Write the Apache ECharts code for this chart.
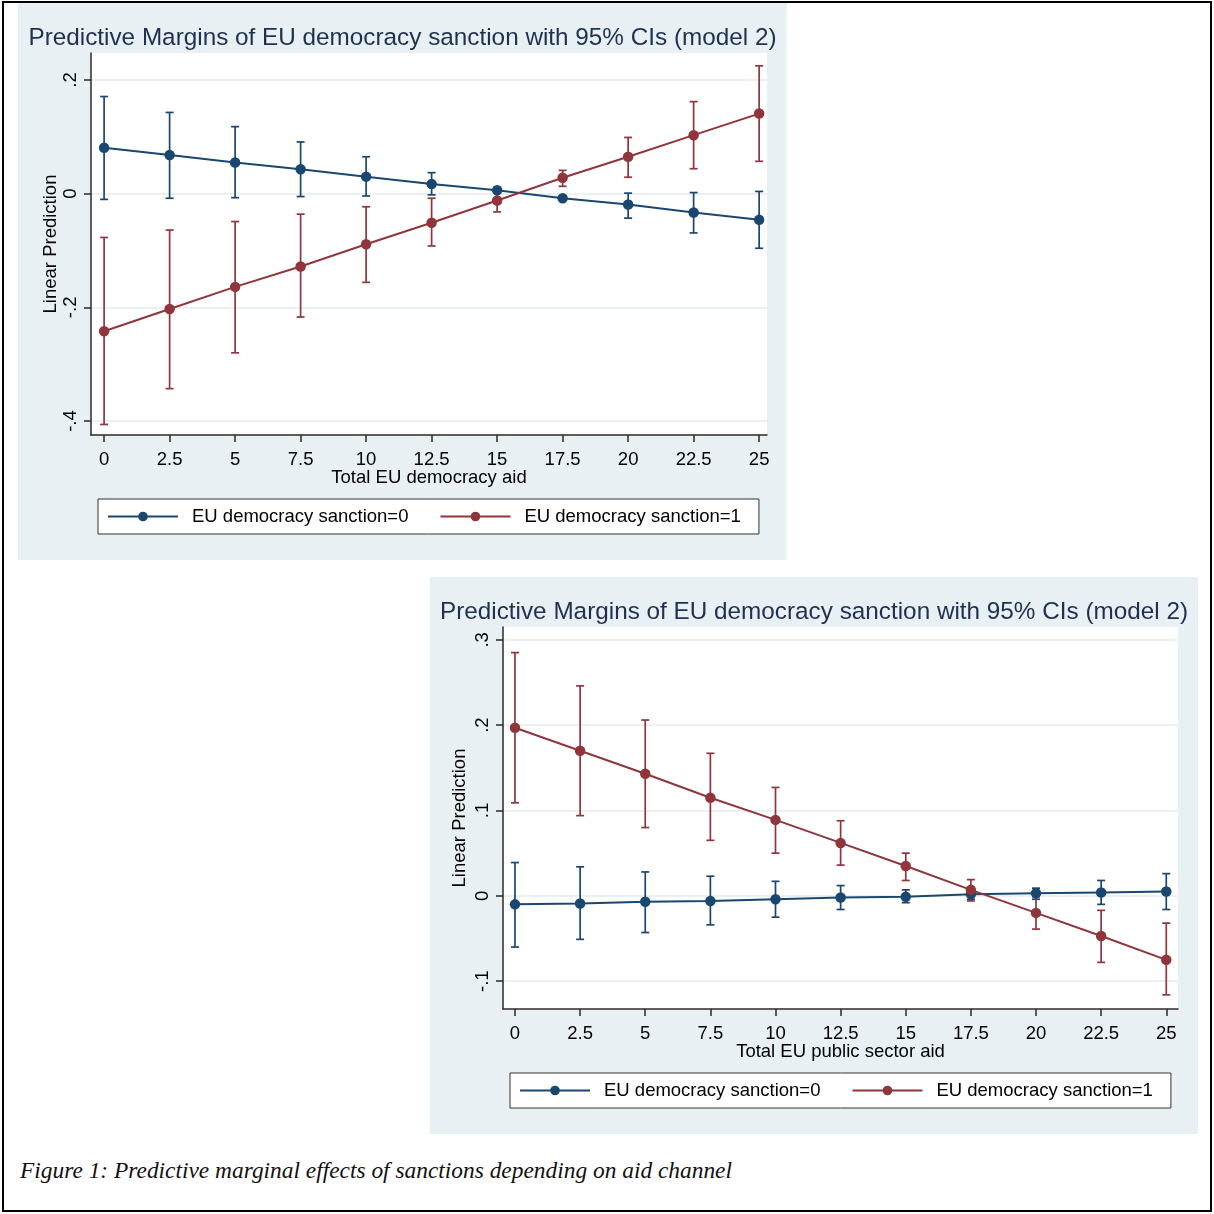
<!DOCTYPE html>
<html>
<head>
<meta charset="utf-8">
<script src="https://cdn.jsdelivr.net/npm/echarts@6/dist/echarts.min.js"></script>
<style>
  html, body { margin:0; padding:0; background:#fff; width:1214px; height:1214px; overflow:hidden; }
  #frame { position:absolute; left:2px; top:1px; width:1210px; height:1211px; border:2px solid #000; box-sizing:border-box; }
  .panel { position:absolute; background:#e8f0f3; }
  #p1 { left:18px; top:3px; width:769px; height:557px; }
  #p2 { left:430px; top:577px; width:768px; height:557px; }
  #caption { position:absolute; left:20px; top:1157px; font-family:"Liberation Serif", "Times New Roman", serif; font-style:italic; font-size:23.4px; color:#111; white-space:nowrap; }
</style>
</head>
<body>
<div id="frame"></div>
<div id="p1" class="panel"></div>
<div id="p2" class="panel"></div>
<div id="caption">Figure 1: Predictive marginal effects of sanctions depending on aid channel</div>
<script>
// ---------- data ----------
const xValues = [0, 2.5, 5, 7.5, 10, 12.5, 15, 17.5, 20, 22.5, 25];
const xTickLabels = ['0', '2.5', '5', '7.5', '10', '12.5', '15', '17.5', '20', '22.5', '25'];

// Panel 1: Total EU democracy aid
const p1Est0 = [0.081, 0.068, 0.055, 0.043, 0.030, 0.017, 0.006, -0.008, -0.019, -0.033, -0.046];
const p1Lo0  = [-0.010, -0.008, -0.007, -0.005, -0.004, -0.002, 0.001, -0.011, -0.043, -0.069, -0.096];
const p1Hi0  = [0.171, 0.143, 0.118, 0.091, 0.065, 0.037, 0.011, -0.005, 0.001, 0.002, 0.004];
const p1Est1 = [-0.242, -0.203, -0.164, -0.128, -0.089, -0.051, -0.012, 0.028, 0.065, 0.103, 0.141];
const p1Lo1  = [-0.406, -0.343, -0.280, -0.217, -0.156, -0.092, -0.032, 0.013, 0.029, 0.044, 0.057];
const p1Hi1  = [-0.077, -0.064, -0.049, -0.036, -0.023, -0.008, 0.007, 0.041, 0.099, 0.162, 0.225];
const p1YTicks = [-0.4, -0.2, 0, 0.2];
const p1YTickLabels = ['-.4', '-.2', '0', '.2'];

// Panel 2: Total EU public sector aid
const p2Est0 = [-0.010, -0.009, -0.007, -0.006, -0.004, -0.002, -0.001, 0.002, 0.003, 0.004, 0.005];
const p2Lo0  = [-0.060, -0.051, -0.043, -0.034, -0.025, -0.016, -0.008, -0.004, -0.004, -0.010, -0.016];
const p2Hi0  = [0.039, 0.034, 0.028, 0.023, 0.017, 0.012, 0.007, 0.005, 0.009, 0.018, 0.026];
const p2Est1 = [0.197, 0.170, 0.143, 0.115, 0.089, 0.062, 0.035, 0.007, -0.020, -0.047, -0.075];
const p2Lo1  = [0.109, 0.094, 0.080, 0.065, 0.050, 0.036, 0.018, -0.006, -0.039, -0.078, -0.116];
const p2Hi1  = [0.285, 0.246, 0.206, 0.167, 0.127, 0.088, 0.050, 0.019, -0.001, -0.017, -0.032];
const p2YTicks = [-0.1, 0, 0.1, 0.2, 0.3];
const p2YTickLabels = ['-.1', '0', '.1', '.2', '.3'];

const titleText = 'Predictive Margins of EU democracy sanction with 95% CIs (model 2)';
const seriesNames = ['EU democracy sanction=0', 'EU democracy sanction=1'];
const yName = 'Linear Prediction';
const xName1 = 'Total EU democracy aid';
const xName2 = 'Total EU public sector aid';

// ---------- styling ----------
const NAVY = '#1a476f';
const MAROON = '#90353b';
const FONT = '"Liberation Sans", Arial, sans-serif';
const AXIS = '#2a2a2a';
const FS = 18.5;

function errRender(params, api) {
  const x = api.value(0), lo = api.value(1), hi = api.value(2);
  const a = api.coord([x, lo]), b = api.coord([x, hi]);
  const w = 4;
  const style = { stroke: api.visual('color'), lineWidth: 1.7, fill: null };
  return {
    type: 'group',
    children: [
      { type: 'line', shape: { x1: a[0], y1: a[1], x2: b[0], y2: b[1] }, style: style },
      { type: 'line', shape: { x1: a[0] - w, y1: a[1], x2: a[0] + w, y2: a[1] }, style: style },
      { type: 'line', shape: { x1: b[0] - w, y1: b[1], x2: b[0] + w, y2: b[1] }, style: style }
    ]
  };
}

function zip2(a, b) { return a.map((v, i) => [v, b[i]]); }
function zip3(a, b, c) { return a.map((v, i) => [v, b[i], c[i]]); }

function buildOption(cfg) {
  const yLabelMap = {};
  cfg.yTicks.forEach((t, i) => { yLabelMap[t.toFixed(3)] = cfg.yTickLabels[i]; });
  const xLabelMap = {};
  xValues.forEach((t, i) => { xLabelMap[t.toFixed(3)] = xTickLabels[i]; });
  return {
    animation: false,
    textStyle: { fontFamily: FONT },
    title: {
      text: titleText, left: 'center', top: 18,
      textStyle: { fontFamily: FONT, fontSize: 24.3, fontWeight: 'normal', color: '#1f3050' }
    },
    legend: {
      data: seriesNames,
      left: 80, top: 496,
      orient: 'horizontal',
      backgroundColor: '#fff', borderColor: '#333', borderWidth: 1, borderRadius: 0,
      padding: [8, 18, 8, 9],
      itemWidth: 70, itemHeight: 12, itemGap: 31,
      textStyle: { fontFamily: FONT, fontSize: FS, color: '#000', padding: [0, 0, 0, 9] }
    },
    grid: {
      left: 73, top: 50, width: cfg.gridWidth, height: 382,
      show: true, backgroundColor: '#fff', borderWidth: 0, containLabel: false
    },
    xAxis: {
      type: 'value', min: cfg.xMin, max: cfg.xMax,
      name: cfg.xName, nameLocation: 'middle', nameGap: 33, nameMoveOverlap: false,
      nameTextStyle: { fontFamily: FONT, fontSize: FS, color: '#000' },
      axisLine: { show: true, onZero: false, lineStyle: { color: AXIS, width: 1.5 } },
      axisTick: { show: true, length: 7, lineStyle: { color: AXIS, width: 1.5 }, customValues: xValues },
      axisLabel: {
        customValues: xValues, margin: 15, color: '#000', fontFamily: FONT, fontSize: FS,
        formatter: v => xLabelMap[Number(v).toFixed(3)] ?? ''
      },
      splitLine: { show: false }
    },
    yAxis: {
      type: 'value', min: cfg.yMin, max: cfg.yMax,
      name: yName, nameLocation: 'middle', nameGap: cfg.yNameGap, nameRotate: 90, nameMoveOverlap: false,
      nameTextStyle: { fontFamily: FONT, fontSize: FS, color: '#000' },
      axisLine: { show: true, onZero: false, lineStyle: { color: AXIS, width: 1.5 } },
      axisTick: { show: true, length: 7, lineStyle: { color: AXIS, width: 1.5 }, customValues: cfg.yTicks },
      axisLabel: {
        customValues: cfg.yTicks, rotate: 90, margin: 11, color: '#000', fontFamily: FONT, fontSize: FS,
        formatter: v => yLabelMap[Number(v).toFixed(3)] ?? ''
      },
      splitLine: { show: true, lineStyle: { color: '#e4ecef', width: 1.5 } }
    },
    series: [
      { name: 'ci0', type: 'custom', renderItem: errRender, itemStyle: { color: NAVY },
        encode: { x: 0, y: [1, 2] }, data: zip3(xValues, cfg.lo0, cfg.hi0), z: 2 },
      { name: 'ci1', type: 'custom', renderItem: errRender, itemStyle: { color: MAROON },
        encode: { x: 0, y: [1, 2] }, data: zip3(xValues, cfg.lo1, cfg.hi1), z: 2 },
      { name: seriesNames[0], type: 'line', data: zip2(xValues, cfg.est0),
        symbol: 'circle', symbolSize: 10.5, showSymbol: true,
        lineStyle: { color: NAVY, width: 2 }, itemStyle: { color: NAVY }, z: 3 },
      { name: seriesNames[1], type: 'line', data: zip2(xValues, cfg.est1),
        symbol: 'circle', symbolSize: 10.5, showSymbol: true,
        lineStyle: { color: MAROON, width: 2 }, itemStyle: { color: MAROON }, z: 4 }
    ]
  };
}

const c1 = echarts.init(document.getElementById('p1'), null, { renderer: 'canvas' });
c1.setOption(buildOption({
  gridWidth: 676, xMin: -0.5, xMax: 25.3, yMin: -0.4246, yMax: 0.2476,
  yTicks: p1YTicks, yTickLabels: p1YTickLabels, xName: xName1, yNameGap: 31,
  est0: p1Est0, lo0: p1Lo0, hi0: p1Hi0, est1: p1Est1, lo1: p1Lo1, hi1: p1Hi1
}));

const c2 = echarts.init(document.getElementById('p2'), null, { renderer: 'canvas' });
c2.setOption(buildOption({
  gridWidth: 675, xMin: -0.46, xMax: 25.45, yMin: -0.1326, yMax: 0.315,
  yTicks: p2YTicks, yTickLabels: p2YTickLabels, xName: xName2, yNameGap: 34,
  est0: p2Est0, lo0: p2Lo0, hi0: p2Hi0, est1: p2Est1, lo1: p2Lo1, hi1: p2Hi1
}));
</script>
</body>
</html>
